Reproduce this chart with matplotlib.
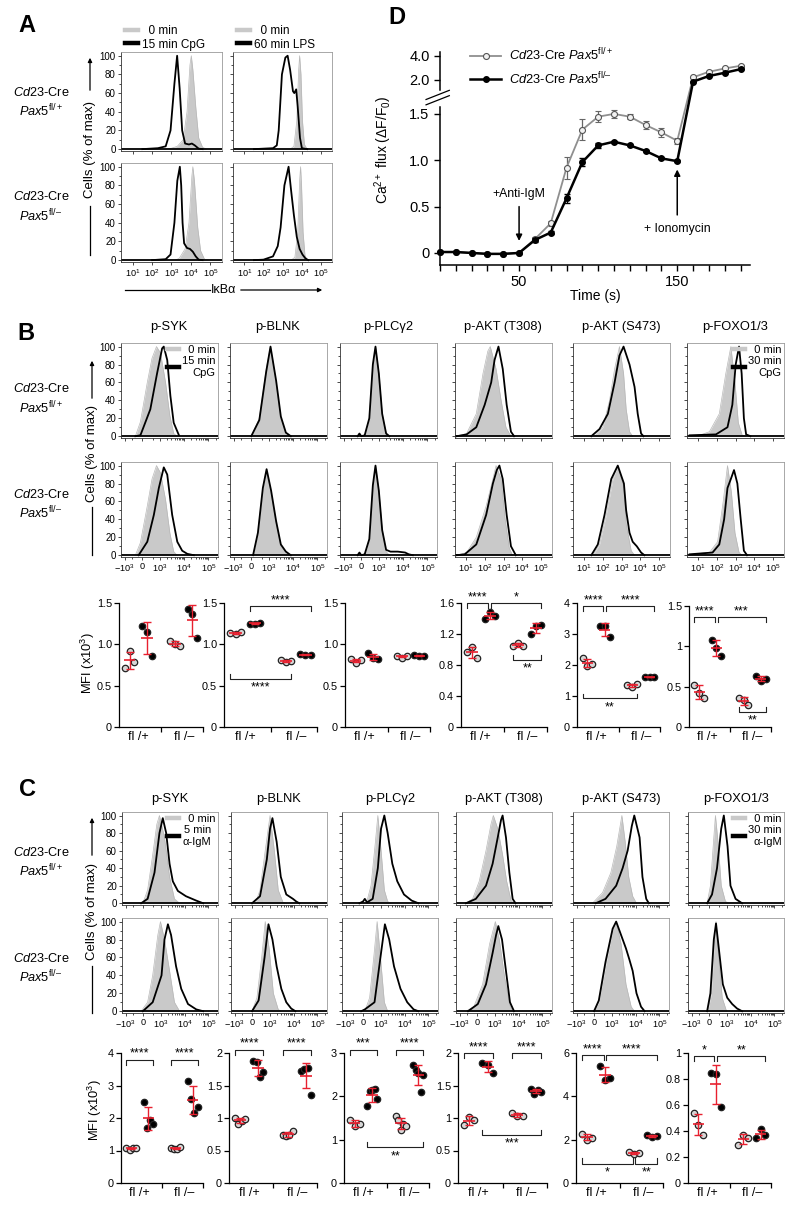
import numpy as np
import matplotlib
matplotlib.use('Agg')
import matplotlib.pyplot as plt
from matplotlib.lines import Line2D
from matplotlib.patches import FancyArrowPatch

plt.rcParams['font.family'] = ['Liberation Sans', 'DejaVu Sans']
plt.rcParams['mathtext.fontset'] = 'custom'
plt.rcParams['mathtext.rm'] = 'Liberation Sans'
plt.rcParams['mathtext.it'] = 'Liberation Sans:italic'
plt.rcParams['mathtext.bf'] = 'Liberation Sans:bold'

EN = '\u2013'

# ---------------- data ----------------
# panel A: IkBa histograms, x = log10 intensity, y = % of max
A_CPG_P_0 = ([2.6, 3.0, 3.3, 3.6, 3.8, 3.95, 4.02, 4.1, 4.25, 4.4, 4.6, 4.8], [0, 1, 3, 10, 40, 90, 100, 85, 45, 12, 2, 0])
A_CPG_P_S = ([1.5, 2.3, 2.7, 2.95, 3.15, 3.29, 3.42, 3.55, 3.7, 3.9, 4.05, 4.2, 4.4, 4.6], [0, 1, 3, 20, 70, 100, 65, 20, 6, 5, 6, 4, 0.5, 0])
A_LPS_P_0 = ([3.4, 3.6, 3.75, 3.85, 3.9, 3.97, 4.05, 4.15, 4.3], [0, 3, 30, 85, 100, 80, 30, 5, 0])
A_LPS_P_S = ([1.5, 2.5, 2.7, 2.8, 2.97, 3.15, 3.27, 3.4, 3.55, 3.62, 3.72, 3.8, 3.92, 4.02, 4.3], [0, 1, 4, 20, 80, 98, 100, 85, 62, 60, 64, 45, 12, 1, 0])
A_CPG_M_0 = ([3.2, 3.4, 3.7, 3.9, 4.05, 4.1, 4.18, 4.35, 4.5, 4.7, 4.9], [0, 2, 12, 40, 90, 100, 85, 35, 10, 1, 0])
A_CPG_M_S = ([2.0, 2.7, 2.95, 3.15, 3.3, 3.43, 3.5, 3.57, 3.65, 3.8, 3.95, 4.1, 4.25, 4.4, 4.6], [0, 1, 6, 40, 85, 100, 80, 40, 18, 13, 12, 9, 4, 0.5, 0])
A_LPS_M_0 = ([3.45, 3.65, 3.8, 3.9, 3.95, 4.0, 4.08, 4.18, 4.3], [0, 3, 30, 85, 100, 80, 30, 5, 0])
A_LPS_M_S = ([1.5, 2.0, 2.5, 2.75, 2.9, 3.1, 3.32, 3.45, 3.6, 3.75, 3.9, 4.05, 4.2, 4.35], [0, 0.5, 4, 15, 35, 80, 100, 75, 48, 25, 12, 6, 2, 0])

# panel B histograms (CpG); SYK/BLNK/PLCg2 in intensity units, AKT/FOXO in log10 units
B_SYK_P_0 = ([-340, -91, 250, 470, 720, 1050, 1700, 2560, 3700, 5100], [0, 16, 60, 87, 100, 93, 60, 23, 3, 0])
B_SYK_P_S = ([-340, -91, 400, 760, 1230, 1440, 2000, 2700, 3700, 6100], [0, 1, 30, 70, 98, 100, 85, 45, 15, 1])
B_SYK_M_0 = ([-340, -91, 250, 470, 720, 1050, 1700, 2560, 3700, 5100], [0, 14, 55, 85, 100, 92, 62, 25, 4, 0])
B_SYK_M_S = ([-180, 250, 560, 900, 1440, 2000, 3200, 5200, 8300, 13500, 25000], [0, 15, 45, 75, 98, 90, 45, 15, 5, 1.5, 0])
B_BLNK_P_0 = ([0, 400, 770, 1160, 1980, 3100, 5000, 8000], [0, 20, 75, 100, 60, 20, 3, 0])
B_BLNK_P_S = ([0, 400, 770, 1160, 1980, 3100, 5000, 8000], [0, 18, 72, 100, 62, 22, 4, 0])
B_BLNK_M_0 = ([90, 330, 560, 770, 1230, 1980, 3100, 6800], [0, 25, 75, 93, 70, 35, 10, 0])
B_BLNK_M_S = ([90, 330, 560, 800, 1230, 1980, 3100, 5000, 8000], [0, 25, 75, 96, 72, 38, 12, 4, 0])
B_PLC_P_0 = ([170, 400, 560, 720, 990, 1360, 1980, 2700], [0, 20, 80, 100, 70, 25, 3, 0])
B_PLC_P_S = ([-180, -90, 0, 170, 400, 560, 720, 990, 1360, 1980, 2700], [0, 3, 0, 1, 20, 80, 100, 70, 25, 3, 0])
B_PLC_M_0 = ([170, 400, 560, 720, 990, 1360, 1980, 2700], [0, 18, 78, 100, 72, 28, 4, 0])
B_PLC_M_S = ([-180, -90, 0, 170, 400, 560, 720, 990, 1360, 1980, 3000, 6000, 12000, 17000, 25000], [0, 3, 0, 1, 18, 78, 100, 72, 28, 6, 4, 4, 3, 1, 0])
B_T308_P_0 = ([0.49, 1.02, 1.54, 1.9, 2.16, 2.29, 2.6, 2.87, 3.13, 3.4], [0, 3, 25, 70, 95, 100, 75, 40, 10, 0])
B_T308_P_S = ([0.49, 1.02, 1.54, 1.99, 2.34, 2.52, 2.73, 2.96, 3.17, 3.4, 3.57], [0, 2, 10, 35, 60, 85, 100, 75, 35, 5, 0])
B_T308_M_0 = ([0.49, 1.02, 1.54, 2.07, 2.43, 2.6, 2.87, 3.09, 3.31, 3.48], [0, 3, 20, 55, 85, 100, 85, 40, 8, 0])
B_T308_M_S = ([0.49, 0.92, 1.54, 2.07, 2.43, 2.64, 2.78, 2.96, 3.17, 3.4, 3.66], [0, 1, 12, 45, 80, 95, 100, 85, 45, 10, 0])
B_S473_P_0 = ([1.56, 2.0, 2.36, 2.63, 2.89, 3.11, 3.25, 3.43, 3.6], [0, 10, 40, 75, 100, 70, 30, 5, 0])
B_S473_P_S = ([1.38, 1.82, 2.27, 2.63, 2.89, 3.11, 3.43, 3.7, 3.87, 4.05, 4.18], [0, 8, 25, 60, 90, 100, 80, 55, 25, 3, 0])
B_S473_M_0 = ([1.47, 1.82, 2.18, 2.54, 2.8, 3.13, 3.25, 3.52, 3.7], [0, 12, 45, 85, 100, 75, 35, 5, 0])
B_S473_M_S = ([1.38, 1.73, 2.09, 2.45, 2.8, 3.13, 3.25, 3.43, 3.6, 3.82, 4.05, 4.23], [0, 12, 45, 85, 100, 80, 50, 25, 15, 10, 3, 0])
B_FOXO_P_0 = ([0.54, 1.07, 1.6, 2.13, 2.48, 2.75, 2.97, 3.15, 3.36, 3.54], [0.5, 1, 5, 25, 70, 100, 60, 15, 1, 0])
B_FOXO_P_S = ([0.54, 1.95, 2.57, 2.83, 3.01, 3.19, 3.33, 3.45, 3.57, 3.8], [1, 2, 10, 35, 80, 100, 70, 20, 2, 0])
B_FOXO_M_0 = ([0.54, 1.6, 2.04, 2.34, 2.57, 2.78, 2.97, 3.19, 3.36], [1, 3, 15, 60, 100, 70, 25, 3, 0])
B_FOXO_M_S = ([0.54, 1.77, 2.13, 2.39, 2.57, 2.75, 2.92, 3.1, 3.28, 3.45, 3.62], [1, 3, 12, 40, 75, 85, 95, 80, 40, 5, 0])

# panel C histograms (anti-IgM), intensity units
C_SYK_P_0 = ([-10, 230, 470, 700, 900, 1460, 2380, 3800, 6250], [0, 15, 55, 90, 100, 75, 30, 5, 0])
C_SYK_P_S = ([-95, 230, 560, 900, 1240, 1720, 2380, 3250, 5300, 11500, 31000, 60000], [0, 5, 35, 80, 97, 80, 45, 25, 14, 8, 3, 0])
C_SYK_M_0 = ([-95, 230, 470, 770, 990, 1460, 2380, 3800, 6250], [0, 10, 40, 85, 100, 80, 45, 10, 0])
C_SYK_M_S = ([-10, 470, 1100, 1460, 2030, 2750, 4450, 7300, 14000, 31000, 60000], [0, 10, 40, 80, 97, 85, 50, 25, 8, 2, 0])
C_BLNK_P_0 = ([170, 400, 660, 1050, 1580, 2300, 3650, 5000], [0, 15, 60, 100, 60, 15, 1, 0])
C_BLNK_P_S = ([0, 400, 770, 1050, 1320, 1980, 2950, 5000, 9500, 13000, 17500], [0, 8, 50, 85, 97, 70, 30, 10, 5, 2, 0])
C_BLNK_M_0 = ([0, 245, 470, 660, 960, 1440, 2300, 3000], [0, 15, 60, 100, 70, 20, 2, 0])
C_BLNK_M_S = ([0, 330, 620, 900, 1320, 1980, 3100, 5000, 8000, 12000], [0, 12, 60, 97, 80, 50, 25, 10, 3, 0])
C_PLC_P_0 = ([170, 400, 610, 770, 1050, 1440, 1980, 2700], [0, 20, 70, 100, 60, 15, 2, 0])
C_PLC_P_S = ([-180, 0, 90, 200, 470, 770, 1050, 1440, 1980, 3100, 5000, 9500, 20000, 38000], [0, 2, 5, 1, 5, 40, 85, 100, 80, 45, 25, 10, 3, 0])
C_PLC_M_0 = ([90, 330, 520, 720, 990, 1440, 1980], [0, 15, 60, 100, 60, 10, 0])
C_PLC_M_S = ([-90, 90, 560, 990, 1520, 2300, 3650, 6800, 13000, 24000, 38000], [0, 2, 10, 60, 97, 80, 50, 25, 10, 2, 0])
C_T308_P_0 = ([-540, -220, 110, 440, 710, 890, 1360, 2170, 3200, 4900, 6500], [0, 5, 25, 60, 90, 100, 85, 55, 25, 3, 0])
C_T308_P_S = ([-540, -60, 440, 830, 1360, 1870, 2170, 3000, 4150, 5700, 7500], [0, 5, 20, 45, 75, 95, 100, 75, 35, 5, 0])
C_T308_M_0 = ([-540, -160, 280, 620, 1080, 1580, 2560, 4150, 5700], [0, 5, 30, 75, 100, 80, 40, 8, 0])
C_T308_M_S = ([-440, 40, 440, 830, 1160, 1440, 2050, 3000, 4400, 6500], [0, 8, 30, 65, 85, 95, 80, 45, 10, 0])
C_S473_P_0 = ([-80, 420, 940, 1650, 2700, 3700, 5200, 7600, 11000], [0, 12, 35, 65, 100, 70, 30, 8, 0])
C_S473_P_S = ([90, 560, 1560, 2900, 4700, 7000, 8900, 14800, 19500, 28000, 36000], [0, 5, 20, 40, 60, 88, 100, 75, 30, 5, 0])
C_S473_M_0 = ([0, 240, 560, 1110, 1560, 2500, 4000, 6600, 9000], [0, 10, 50, 90, 100, 75, 30, 5, 0])
C_S473_M_S = ([0, 240, 560, 1110, 1560, 2500, 4000, 5500, 7600, 11000, 17000, 24000], [0, 12, 55, 92, 100, 85, 70, 58, 45, 20, 5, 0])
C_FOXO_P_0 = ([-95, 70, 240, 320, 440, 600, 900, 1300], [0, 20, 75, 100, 70, 20, 2, 0])
C_FOXO_P_S = ([-95, 150, 400, 600, 770, 1100, 1460, 2380, 4450], [0, 10, 40, 85, 100, 65, 20, 5, 0])
C_FOXO_M_0 = ([-60, 120, 260, 350, 470, 660, 1000], [0, 20, 75, 100, 60, 15, 0])
C_FOXO_M_S = ([-95, 70, 240, 350, 500, 700, 1070, 1720, 2750, 4450], [0, 20, 80, 98, 65, 30, 15, 8, 3, 0])

MARKERS = ['p-SYK', 'p-BLNK', 'p-PLC\u03b32', 'p-AKT (T308)', 'p-AKT (S473)', 'p-FOXO1/3']

# MFI (x10^3): [fl/+ 0 min, fl/+ stim, fl/- 0 min, fl/- stim]
B_MFI_SYK = [[0.71, 0.915, 0.79], [1.22, 1.15, 0.86], [1.04, 1.01, 0.98], [1.43, 1.37, 1.08]]
B_MFI_BLNK = [[1.14, 1.12, 1.15], [1.25, 1.25, 1.26], [0.81, 0.79, 0.80], [0.88, 0.87, 0.87]]
B_MFI_PLC = [[0.82, 0.78, 0.81], [0.89, 0.83, 0.82], [0.86, 0.84, 0.86], [0.87, 0.86, 0.86]]
B_MFI_T308 = [[0.97, 1.03, 0.89], [1.39, 1.48, 1.43], [1.05, 1.09, 1.04], [1.20, 1.30, 1.32]]
B_MFI_S473 = [[2.22, 1.96, 2.03], [3.26, 3.25, 2.89], [1.36, 1.30, 1.38], [1.60, 1.60, 1.61]]
B_MFI_FOXO = [[0.525, 0.42, 0.36], [1.08, 0.975, 0.88], [0.36, 0.33, 0.27], [0.63, 0.57, 0.60]]
C_MFI_SYK = [[1.08, 1.03, 1.07, 1.08], [2.5, 1.7, 1.95, 1.82], [1.07, 1.05, 1.05, 1.10], [3.15, 2.6, 2.15, 2.33]]
C_MFI_BLNK = [[1.0, 0.91, 0.96, 0.99], [1.88, 1.86, 1.63, 1.71], [0.74, 0.72, 0.74, 0.80], [1.72, 1.75, 1.77, 1.36]]
C_MFI_PLC = [[1.45, 1.31, 1.36], [1.77, 2.12, 2.15, 2.17, 1.95], [1.54, 1.46, 1.22, 1.36, 1.32], [2.72, 2.6, 2.53, 2.11, 2.5]]
C_MFI_T308 = [[0.89, 1.02, 0.97], [1.85, 1.82, 1.69], [1.08, 1.03, 1.03], [1.44, 1.37, 1.43, 1.40]]
C_MFI_S473 = [[2.28, 2.0, 2.08], [5.4, 4.74, 4.85], [1.42, 1.35, 1.38], [2.23, 2.12, 2.15]]
C_MFI_FOXO = [[0.536, 0.446, 0.37], [0.847, 0.84, 0.587], [0.293, 0.37, 0.344], [0.344, 0.413, 0.37]]

# significance: (group i, group j, y, stars, side)
B_SIG = [[], [(1, 3, 1.46, '****', 'top'), (0, 2, 0.58, '****', 'bottom')], [],
         [(0, 1, 1.6, '****', 'top'), (1, 3, 1.6, '*', 'top'), (2, 3, 0.86, '**', 'bottom')],
         [(0, 1, 3.9, '****', 'top'), (1, 3, 3.9, '****', 'top'), (0, 2, 0.92, '**', 'bottom')],
         [(0, 1, 1.36, '****', 'top'), (1, 3, 1.36, '***', 'top'), (2, 3, 0.19, '**', 'bottom')]]
C_SIG = [[(0, 1, 3.8, '****', 'top'), (2, 3, 3.8, '****', 'top')],
         [(0, 1, 2.05, '****', 'top'), (2, 3, 2.05, '****', 'top')],
         [(0, 1, 3.08, '***', 'top'), (2, 3, 3.08, '****', 'top'), (1, 3, 0.82, '**', 'bottom')],
         [(0, 1, 2.0, '****', 'top'), (2, 3, 2.0, '****', 'top'), (1, 3, 0.74, '***', 'bottom')],
         [(0, 1, 5.9, '****', 'top'), (1, 3, 5.9, '****', 'top'), (0, 2, 0.9, '*', 'bottom'), (2, 3, 0.9, '**', 'bottom')],
         [(0, 1, 0.975, '*', 'top'), (1, 3, 0.975, '**', 'top')]]
B_YTICKS = [[0, 0.5, 1.0, 1.5]] * 3 + [[0, 0.4, 0.8, 1.2, 1.6], [0, 1, 2, 3, 4], [0, 0.5, 1, 1.5]]
B_YLABELS = [['0', '0.5', '1.0', '1.5']] * 3 + [['0', '0.4', '0.8', '1.2', '1.6'], ['0', '1', '2', '3', '4'], ['0', '0.5', '1', '1.5']]
C_YTICKS = [[0, 1, 2, 3, 4], [0, 0.5, 1, 1.5, 2], [0, 1, 2, 3], [0, 0.5, 1, 1.5, 2], [0, 2, 4, 6], [0, 0.2, 0.4, 0.6, 0.8, 1]]
C_YLABELS = [['0', '1', '2', '3', '4'], ['0', '0.5', '1', '1.5', '2'], ['0', '1', '2', '3'], ['0', '0.5', '1', '1.5', '2'],
             ['0', '2', '4', '6'], ['0', '0.2', '0.4', '0.6', '0.8', '1']]

# panel D: Ca2+ flux
TIME = [0, 10, 20, 30, 40, 50, 60, 70, 80, 90, 100, 110, 120, 130, 140, 150, 160, 170, 180, 190]
CA_FLP = [0.01, 0.01, 0.0, -0.01, -0.01, 0.0, 0.15, 0.32, 0.92, 1.33, 1.47, 1.50, 1.47, 1.38, 1.30, 1.21, 2.22, 2.68, 2.96, 3.18]
CA_FLP_ERR = [0, 0, 0, 0, 0, 0, 0.02, 0.03, 0.12, 0.11, 0.06, 0.04, 0.03, 0.04, 0.05, 0.03, 0.03, 0.03, 0.03, 0.03]
CA_FLM = [0.01, 0.01, 0.0, -0.01, -0.01, 0.0, 0.14, 0.22, 0.59, 0.98, 1.16, 1.20, 1.16, 1.10, 1.02, 0.99, 1.86, 2.33, 2.60, 2.90]
CA_FLM_ERR = [0, 0, 0, 0, 0, 0, 0.02, 0.02, 0.05, 0.04, 0.03, 0.01, 0.01, 0.01, 0.01, 0.01, 0.02, 0.02, 0.02, 0.02]

# ---------------- drawing ----------------
W, H = 800, 1209
fig = plt.figure(figsize=(W / 100, H / 100), dpi=100)
GRAY_FILL = '#c9c9c9'
RED = '#e8202f'
GX = [1.0, 2.0, 3.6, 4.6]


def add_ax(x0, y0, x1, y1):
    return fig.add_axes([x0 / W, 1 - y1 / H, (x1 - x0) / W, (y1 - y0) / H])


def fx(x):
    return x / W


def fy(y):
    return 1 - y / H


def hist_panel(x0, y0, x1, y1, gray, black, scale, show_x, show_y):
    ax = add_ax(x0, y0, x1, y1)
    gx, gy = np.asarray(gray[0], float), gray[1]
    bx, by = np.asarray(black[0], float), black[1]
    if scale == 'log':
        gx, bx = 10.0 ** gx, 10.0 ** bx
        ax.set_xscale('log')
        ax.set_xlim(2.5, 4e5)
        ax.set_xticks([1e1, 1e2, 1e3, 1e4, 1e5])
    else:
        ax.set_xscale('symlog', linthresh=400, linscale=0.3)
        ax.set_xlim(-1400, 2.5e5)
        ax.set_xticks([-1e3, 0, 1e3, 1e4, 1e5])
        ax.set_xticklabels([r'$-10^3$', '0', r'$10^3$', r'$10^4$', r'$10^5$'])
        ax.set_xticks([-500, 500] + [k * 10 ** d for d in (3, 4) for k in range(2, 10)] + [2e5], minor=True)
    ax.fill_between(gx, gy, color=GRAY_FILL, lw=0, zorder=1)
    ax.plot(gx, gy, color='#b8b8b8', lw=0.5, zorder=1)
    ax.axhline(0, color='k', lw=1.3, zorder=2)
    ax.plot(bx, by, color='k', lw=1.3, zorder=3)
    ax.set_ylim(-2, 104)
    ax.set_yticks([0, 20, 40, 60, 80, 100])
    ax.set_yticks(range(10, 100, 20), minor=True)
    ax.tick_params(which='both', direction='out', width=0.5, pad=1.5)
    ax.tick_params(axis='x', labelsize=6.6)
    ax.tick_params(axis='y', labelsize=7)
    ax.tick_params(which='major', length=2.2)
    ax.tick_params(which='minor', length=1.2)
    ax.tick_params(labelbottom=show_x, labelleft=show_y)
    for s in ('top', 'right'):
        ax.spines[s].set_color('#9a9a9a')
        ax.spines[s].set_linewidth(0.6)
    for s in ('left', 'bottom'):
        ax.spines[s].set_color('#333333')
        ax.spines[s].set_linewidth(0.6)
    return ax


def hist_legend(ax, stim, loc, anchor, fs=8):
    hs = [Line2D([], [], color=GRAY_FILL, lw=3.2), Line2D([], [], color='k', lw=3.2)]
    leg = ax.legend(hs, ['  0 min', stim], loc=loc, bbox_to_anchor=anchor, frameon=False, fontsize=fs,
                    handlelength=1.1, handletextpad=0.3, labelspacing=0.1, borderaxespad=0.1, borderpad=0.1)
    for t in leg.get_texts():
        t.set_multialignment('right')


def row_labels(y_top, y_bot):
    for yy, g in ((y_top, '+'), (y_bot, EN)):
        fig.text(fx(41), fy(yy), r'$\it{Cd23}$-Cre', ha='center', va='center', fontsize=9.2)
        fig.text(fx(41), fy(yy + 19), r'$\it{Pax5}^{\rm{fl/' + g + '}}$', ha='center', va='center', fontsize=9.2)


def cells_label(x, y_top, t0, t1, y_bot):
    fig.add_artist(FancyArrowPatch((fx(x), fy(t0 - 4)), (fx(x), fy(y_top)), transform=fig.transFigure,
                                   arrowstyle='-|>', mutation_scale=6, lw=0.9, color='k'))
    fig.add_artist(Line2D([fx(x), fx(x)], [fy(t1 + 4), fy(y_bot)], transform=fig.transFigure, lw=0.9, color='k'))
    fig.text(fx(x), fy((t0 + t1) / 2), 'Cells (% of max)', rotation=90, ha='center', va='center', fontsize=9.5)


def mfi_panel(x0, y0, x1, y1, groups, ticks, labels, sigs):
    ax = add_ax(x0, y0, x1, y1)
    top = ticks[-1]
    for gi, vals in enumerate(groups):
        v = np.asarray(vals, float)
        offs = np.linspace(-0.28, 0.28, len(v))
        is_open = gi % 2 == 0
        ax.plot(GX[gi] + offs, v, 'o', ms=4.6, mfc='#d6d6d6' if is_open else 'black', mec='#222222',
                mew=0.9, zorder=3, clip_on=False)
        m, s = v.mean(), v.std(ddof=1)
        ax.errorbar(GX[gi], m, yerr=s, color=RED, lw=1.0, capsize=2.6, capthick=1.0, zorder=4)
        ax.hlines(m, GX[gi] - 0.33, GX[gi] + 0.33, color=RED, lw=1.2, zorder=4)
    # brackets
    for side in ('top', 'bottom'):
        used = [g for (i, j, y, t, sd) in sigs if sd == side for g in (i, j)]
        shared = {g for g in used if used.count(g) > 1}
        for (i, j, y, t, sd) in sigs:
            if sd != side:
                continue
            xa = GX[i] + (0.07 if i in shared else -0.28)
            xb = GX[j] + (-0.07 if j in shared else 0.28)
            d = 0.04 * top
            if side == 'top':
                ax.plot([xa, xa, xb, xb], [y - d, y, y, y - d], color='#222222', lw=0.8, clip_on=False)
                ax.text((xa + xb) / 2, y + 0.0 * top, t, ha='center', va='bottom', fontsize=9)
            else:
                ax.plot([xa, xa, xb, xb], [y + d, y, y, y + d], color='#222222', lw=0.8, clip_on=False)
                ax.text((xa + xb) / 2, y - 0.02 * top, t, ha='center', va='top', fontsize=9)
    ax.set_ylim(0, top)
    ax.set_yticks(ticks)
    ax.set_yticklabels(labels)
    ax.set_xlim(0.4, 5.2)
    ax.set_xticks([2.8, 5.2])
    ax.set_xticklabels(['', ''])
    ax.set_xticks([1.5, 4.1], minor=True)
    ax.set_xticklabels(['fl /+', 'fl /' + EN], minor=True)
    ax.tick_params(which='major', direction='out', length=3.5, width=0.9, labelsize=7.8, pad=1.5)
    ax.tick_params(axis='x', which='minor', length=0, labelsize=9, pad=3)
    for s in ('top', 'right'):
        ax.spines[s].set_visible(False)
    for s in ('left', 'bottom'):
        ax.spines[s].set_linewidth(0.9)
    return ax


# ---- panel A ----
fig.text(fx(27), fy(25), 'A', fontsize=17, fontweight='bold', ha='center', va='center')
A_COLS = [(121, 222), (233, 332)]
A_ROWS = [(52, 151), (163, 262)]
A_DATA = [[(A_CPG_P_0, A_CPG_P_S), (A_LPS_P_0, A_LPS_P_S)], [(A_CPG_M_0, A_CPG_M_S), (A_LPS_M_0, A_LPS_M_S)]]
for r, (y0, y1) in enumerate(A_ROWS):
    for c, (x0, x1) in enumerate(A_COLS):
        g, b = A_DATA[r][c]
        ax = hist_panel(x0, y0, x1, y1, g, b, 'log', r == 1, c == 0)
        if r == 0:
            hist_legend(ax, '15 min CpG' if c == 0 else '60 min LPS', 'lower left', (0.02, 0.99), fs=8.5)
row_labels(92, 197)
cells_label(90, 55, 97, 202, 255)
fig.add_artist(Line2D([fx(125), fx(210)], [fy(290), fy(290)], transform=fig.transFigure, lw=0.9, color='k'))
fig.add_artist(FancyArrowPatch((fx(238), fy(290)), (fx(325), fy(290)), transform=fig.transFigure,
                               arrowstyle='-|>', mutation_scale=6, lw=0.9, color='k'))
fig.text(fx(224), fy(290), 'I\u03baB\u03b1', ha='center', va='center', fontsize=9)

# ---- panel D ----
fig.text(fx(397), fy(17), 'D', fontsize=17, fontweight='bold', ha='center', va='center')
axd = add_ax(440, 52, 750, 265)


def ca_fwd(v):
    return np.interp(v, [-1, 1.6, 1.7, 5], [-1, 1.6, 1.827, 2.2545])


def ca_inv(u):
    return np.interp(u, [-1, 1.6, 1.827, 2.2545], [-1, 1.6, 1.7, 5])


axd.set_yscale('function', functions=(ca_fwd, ca_inv))
sty_p = dict(color='#8f8f8f', lw=1.3, marker='o', ms=4.3, mfc='#f2f2f2', mec='#555555', mew=0.8)
sty_m = dict(color='black', lw=1.8, marker='o', ms=4.0, mfc='black', mec='black')
axd.errorbar(TIME, CA_FLP, yerr=CA_FLP_ERR, capsize=2, elinewidth=0.9, ecolor='#666666', clip_on=False,
             zorder=3, **sty_p)
axd.errorbar(TIME, CA_FLM, yerr=CA_FLM_ERR, capsize=2, elinewidth=0.9, clip_on=False, zorder=4, **sty_m)
axd.set_ylim(-0.13, 4.33)
axd.set_xlim(0, 196)
axd.set_yticks([0, 0.5, 1.0, 1.5, 2.0, 4.0])
axd.set_yticklabels(['0', '0.5', '1.0', '1.5', '2.0', '4.0'])
axd.set_xticks(TIME)
axd.set_xticklabels(['50' if t == 50 else '150' if t == 150 else '' for t in TIME])
axd.tick_params(direction='out', length=4, width=1.0, labelsize=10.5)
axd.spines['top'].set_visible(False)
axd.spines['right'].set_visible(False)
axd.spines['left'].set_bounds(-0.13, 1.575)
axd.spines['left'].set_linewidth(1.1)
axd.spines['bottom'].set_linewidth(1.1)
axd.plot([0, 0], [1.67, 4.33], transform=axd.get_yaxis_transform(), color='k', lw=1.1, clip_on=False)
for dy in (0.0, 0.025):
    axd.plot([-0.045, 0.03], [0.752 + dy, 0.795 + dy], transform=axd.transAxes, color='k', lw=0.9, clip_on=False)
axd.set_xlabel('Time (s)', fontsize=10, labelpad=0)
axd.set_ylabel(r'Ca$^{2+}$ flux ($\Delta$F/F$_0$)', fontsize=10)
axd.yaxis.set_label_coords(-0.15, 0.54)
leg_h = [Line2D([], [], **sty_p), Line2D([], [], **sty_m)]
axd.legend(leg_h, [r'$\it{Cd23}$-Cre $\it{Pax5}^{\rm{fl/+}}$', r'$\it{Cd23}$-Cre $\it{Pax5}^{\rm{fl/' + EN + '}}$'],
           loc='upper left', bbox_to_anchor=(0.06, 1.08), frameon=False, fontsize=9.3, handlelength=2.4,
           labelspacing=0.55, handletextpad=0.6)
axd.annotate('', xy=(50, 0.1), xytext=(50, 0.53),
             arrowprops=dict(arrowstyle='-|>', color='k', lw=1.1, mutation_scale=9))
axd.text(50, 0.64, '+Anti-IgM', ha='center', va='center', fontsize=8.8)
axd.annotate('', xy=(150, 0.93), xytext=(150, 0.38),
             arrowprops=dict(arrowstyle='-|>', color='k', lw=1.1, mutation_scale=9))
axd.text(150, 0.26, '+ Ionomycin', ha='center', va='center', fontsize=8.8)

# ---- panel B ----
fig.text(fx(26), fy(333), 'B', fontsize=17, fontweight='bold', ha='center', va='center')
B_LEFTS = [121, 230, 340, 455, 573, 687]
B_HIST = [(B_SYK_P_0, B_SYK_P_S, B_SYK_M_0, B_SYK_M_S, 'sym'),
          (B_BLNK_P_0, B_BLNK_P_S, B_BLNK_M_0, B_BLNK_M_S, 'sym'),
          (B_PLC_P_0, B_PLC_P_S, B_PLC_M_0, B_PLC_M_S, 'sym'),
          (B_T308_P_0, B_T308_P_S, B_T308_M_0, B_T308_M_S, 'log'),
          (B_S473_P_0, B_S473_P_S, B_S473_M_0, B_S473_M_S, 'log'),
          (B_FOXO_P_0, B_FOXO_P_S, B_FOXO_M_0, B_FOXO_M_S, 'log')]
for c, x0 in enumerate(B_LEFTS):
    p0, ps, m0, ms_, sc = B_HIST[c]
    axt = hist_panel(x0, 343, x0 + 97, 438, p0, ps, sc, False, c == 0)
    hist_panel(x0, 462, x0 + 97, 557, m0, ms_, sc, True, c == 0)
    fig.text(fx(x0 + 48), fy(327), MARKERS[c], ha='center', va='center', fontsize=9.3)
    if c == 0:
        hist_legend(axt, '15 min\nCpG', 'upper right', (1.0, 1.0))
    if c == 5:
        hist_legend(axt, '30 min\nCpG', 'upper right', (1.0, 1.0))
row_labels(389, 494)
cells_label(92, 358, 405, 503, 555)

B_MFI = [B_MFI_SYK, B_MFI_BLNK, B_MFI_PLC, B_MFI_T308, B_MFI_S473, B_MFI_FOXO]
B_SC_X = [(119, 203), (224, 317), (345, 430), (461, 547), (577, 660), (689, 771)]
for c, (x0, x1) in enumerate(B_SC_X):
    top_px = 606 if c == 5 else 603
    mfi_panel(x0, top_px, x1, 727, B_MFI[c], B_YTICKS[c], B_YLABELS[c], B_SIG[c])
fig.text(fx(88), fy(663), r'MFI (x10$^3$)', rotation=90, ha='center', va='center', fontsize=9.3)

# ---- panel C ----
fig.text(fx(27), fy(790), 'C', fontsize=17, fontweight='bold', ha='center', va='center')
C_LEFTS = [122, 231, 342, 456, 573, 688]
C_HIST = [(C_SYK_P_0, C_SYK_P_S, C_SYK_M_0, C_SYK_M_S),
          (C_BLNK_P_0, C_BLNK_P_S, C_BLNK_M_0, C_BLNK_M_S),
          (C_PLC_P_0, C_PLC_P_S, C_PLC_M_0, C_PLC_M_S),
          (C_T308_P_0, C_T308_P_S, C_T308_M_0, C_T308_M_S),
          (C_S473_P_0, C_S473_P_S, C_S473_M_0, C_S473_M_S),
          (C_FOXO_P_0, C_FOXO_P_S, C_FOXO_M_0, C_FOXO_M_S)]
for c, x0 in enumerate(C_LEFTS):
    p0, ps, m0, ms_ = C_HIST[c]
    axt = hist_panel(x0, 812, x0 + 96, 905, p0, ps, 'sym', False, c == 0)
    hist_panel(x0, 918, x0 + 96, 1013, m0, ms_, 'sym', True, c == 0)
    fig.text(fx(x0 + 48), fy(799), MARKERS[c], ha='center', va='center', fontsize=9.3)
    if c == 0:
        hist_legend(axt, '5 min\n\u03b1-IgM', 'upper right', (1.0, 1.0))
    if c == 5:
        hist_legend(axt, '30 min\n\u03b1-IgM', 'upper right', (1.0, 1.0))
row_labels(852, 958)
cells_label(92, 815, 862, 962, 1013)

C_MFI = [C_MFI_SYK, C_MFI_BLNK, C_MFI_PLC, C_MFI_T308, C_MFI_S473, C_MFI_FOXO]
C_SC_X = [(121, 203), (229, 317), (344, 429), (458, 547), (576, 663), (688, 771)]
for c, (x0, x1) in enumerate(C_SC_X):
    mfi_panel(x0, 1053, x1, 1183, C_MFI[c], C_YTICKS[c], C_YLABELS[c], C_SIG[c])
fig.text(fx(95), fy(1110), r'MFI (x10$^3$)', rotation=90, ha='center', va='center', fontsize=9.3)

fig.savefig('out.png', dpi=100)
